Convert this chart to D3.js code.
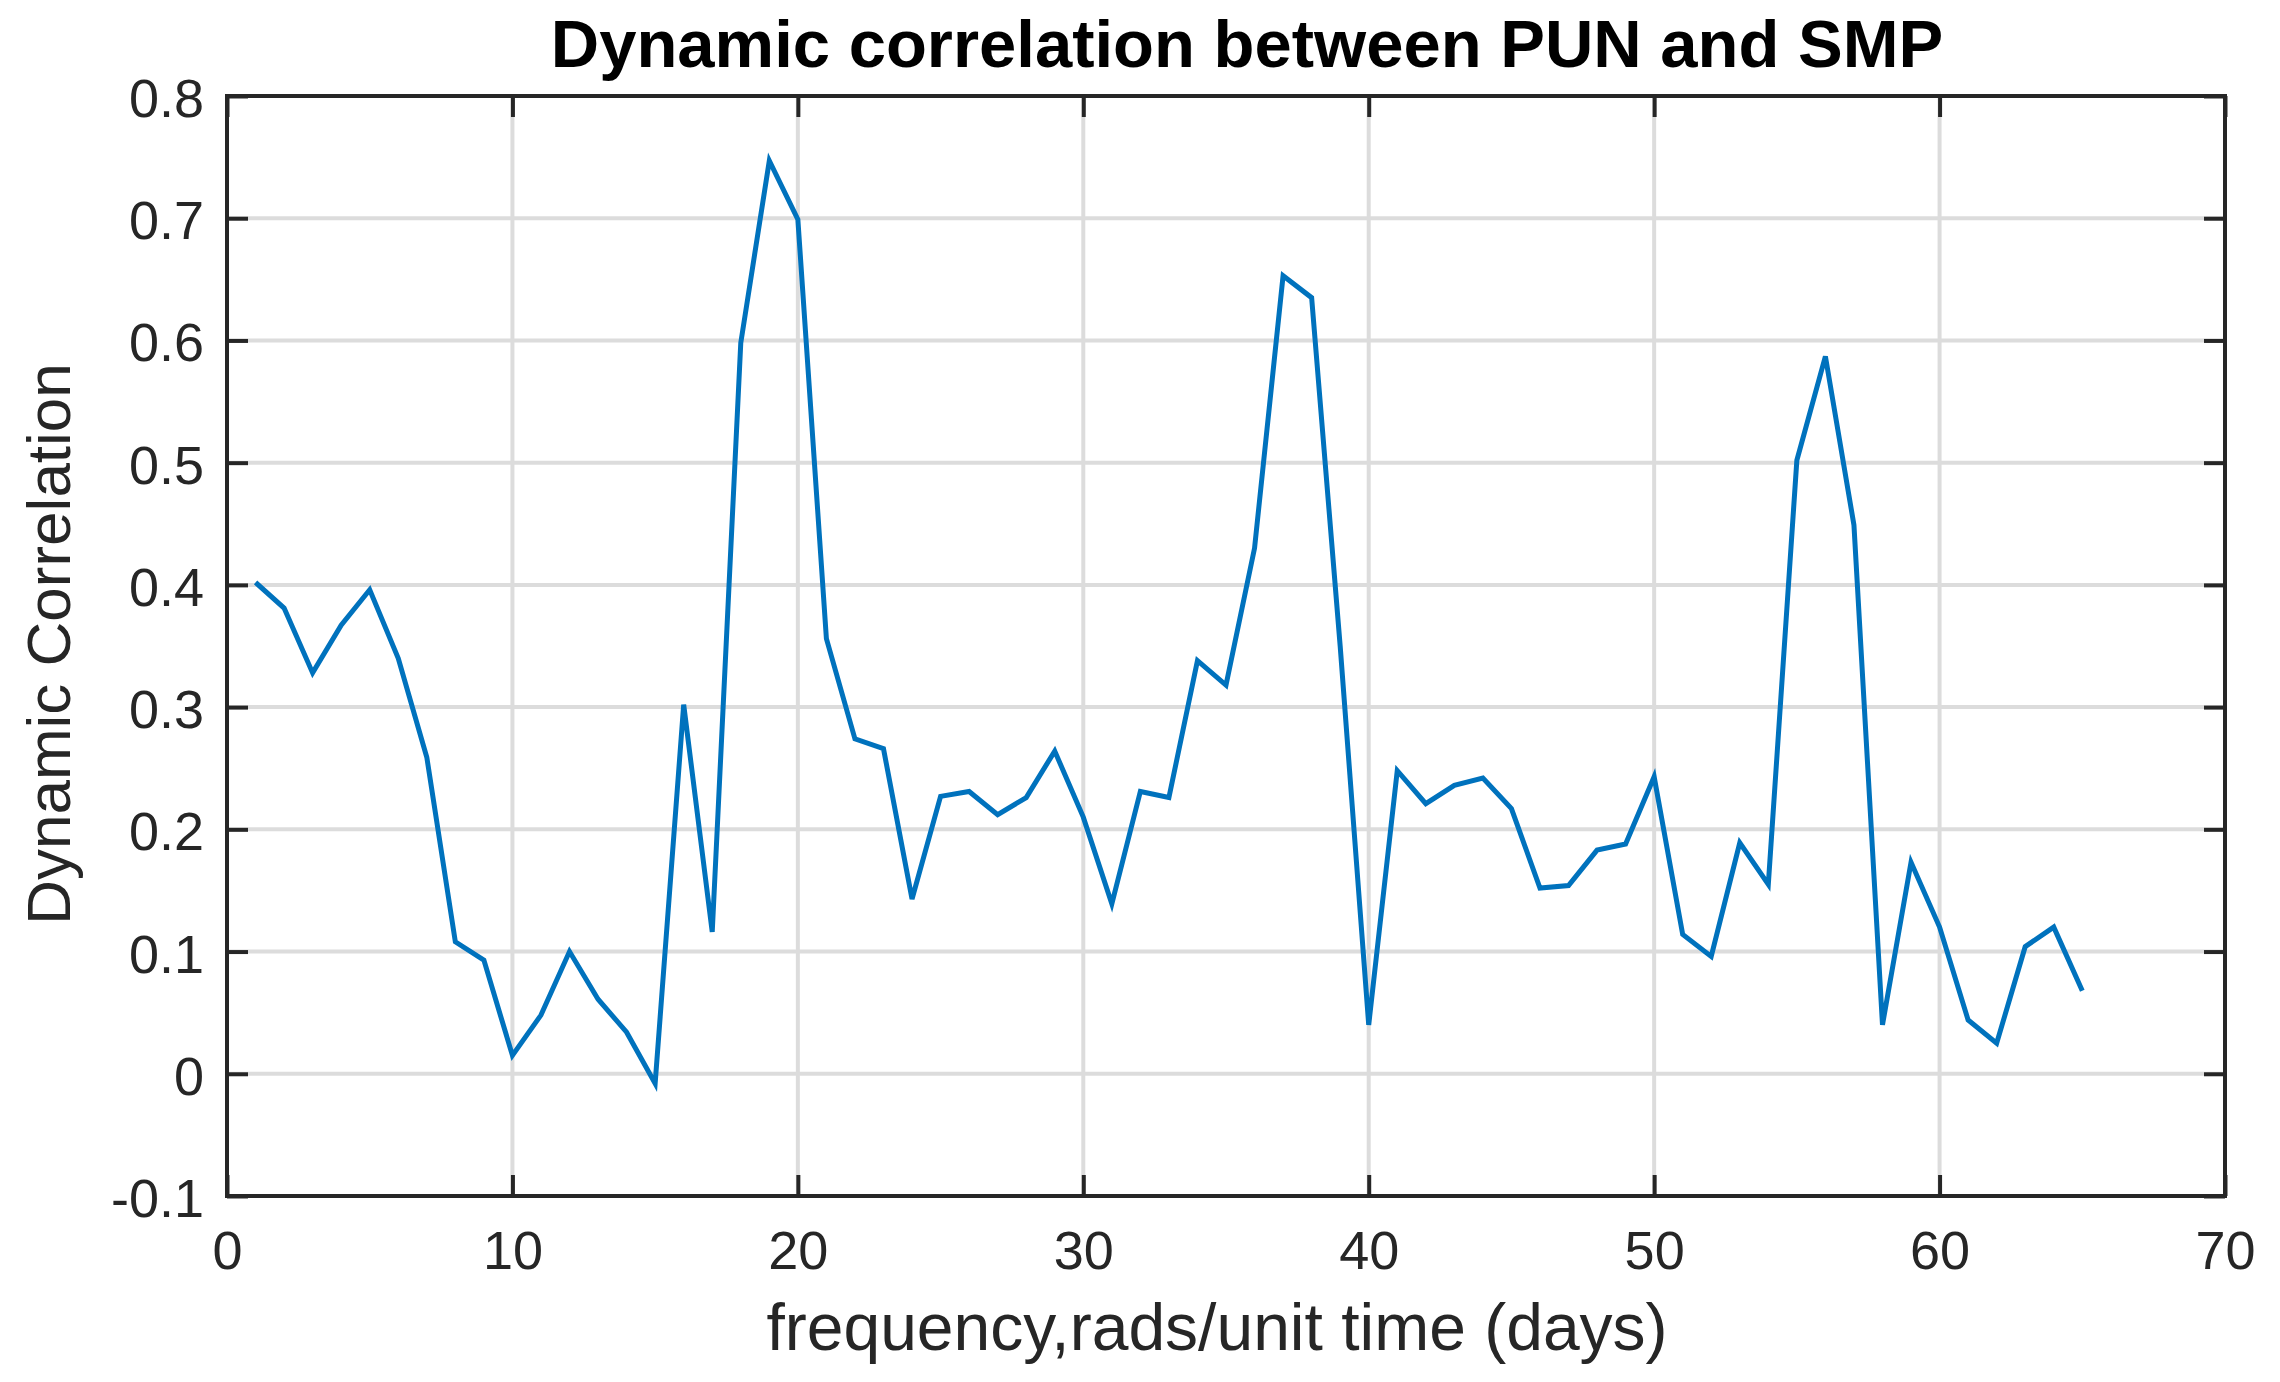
<!DOCTYPE html>
<html>
<head>
<meta charset="utf-8">
<script src="https://cdn.jsdelivr.net/npm/d3@7"></script>
<style>
  html, body { margin: 0; padding: 0; background: #ffffff; }
  svg { display: block; }
</style>
</head>
<body>
<script>
// ---- data ----
const frequency = d3.range(1, 66);
const dynamicCorrelation = [
  0.402, 0.381, 0.328, 0.367, 0.396, 0.340, 0.259, 0.108, 0.093, 0.015,
  0.048, 0.100, 0.061, 0.034, -0.008, 0.302, 0.116, 0.598, 0.747, 0.699,
  0.356, 0.274, 0.266, 0.143, 0.227, 0.231, 0.212, 0.226, 0.264, 0.210,
  0.139, 0.231, 0.226, 0.338, 0.318, 0.430, 0.653, 0.635, 0.350, 0.040,
  0.248, 0.221, 0.236, 0.242, 0.217, 0.152, 0.154, 0.183, 0.188, 0.243,
  0.114, 0.096, 0.189, 0.155, 0.502, 0.587, 0.449, 0.040, 0.173, 0.120,
  0.044, 0.025, 0.104, 0.120, 0.068
];
const xTicks = [0, 10, 20, 30, 40, 50, 60, 70];
const yTicks = [-0.1, 0, 0.1, 0.2, 0.3, 0.4, 0.5, 0.6, 0.7, 0.8];
const yTickLabels = ["-0.1", "0", "0.1", "0.2", "0.3", "0.4", "0.5", "0.6", "0.7", "0.8"];
const titleText = "Dynamic correlation between PUN and SMP";
const xLabelText = "frequency,rads/unit time (days)";
const yLabelText = "Dynamic Correlation";

// ---- layout ----
const W = 2280, H = 1382;
const pL = 227, pR = 2225, pT = 96, pB = 1196;
const axisColor = "#262626";
const font = "'Liberation Sans', Arial, Helvetica, sans-serif";

const svg = d3.select("body").append("svg")
  .attr("width", W).attr("height", H)
  .attr("viewBox", `0 0 ${W} ${H}`);

svg.append("rect").attr("width", W).attr("height", H).attr("fill", "#fff");

const x = d3.scaleLinear().domain([0, 70]).range([pL, pR]);
const y = d3.scaleLinear().domain([-0.1, 0.8]).range([pB, pT]);

// grid
const grid = svg.append("g").attr("stroke", "#dcdcdc").attr("stroke-width", 4);
grid.selectAll("line.gx").data(xTicks.slice(1, -1)).enter().append("line")
  .attr("x1", d => x(d)).attr("x2", d => x(d))
  .attr("y1", pT).attr("y2", pB);
grid.selectAll("line.gy").data(yTicks.slice(1, -1)).enter().append("line")
  .attr("y1", d => y(d)).attr("y2", d => y(d))
  .attr("x1", pL).attr("x2", pR);

// data line
const line = d3.line().x((d, i) => x(frequency[i])).y(d => y(d));
svg.append("path")
  .datum(dynamicCorrelation)
  .attr("d", line)
  .attr("fill", "none")
  .attr("stroke", "#0072BD")
  .attr("stroke-width", 5)
  .attr("stroke-linejoin", "miter")
  .attr("stroke-miterlimit", 4);

// axes with inward ticks on all sides
const tickLen = 21;
const xAxisB = d3.axisBottom(x).tickValues(xTicks).tickSizeInner(-tickLen).tickSizeOuter(0)
  .tickPadding(35).tickFormat(d3.format("d"));
const xAxisT = d3.axisTop(x).tickValues(xTicks).tickSizeInner(-tickLen).tickSizeOuter(0).tickFormat("");
const yAxisL = d3.axisLeft(y).tickValues(yTicks).tickSizeInner(-tickLen).tickSizeOuter(0)
  .tickPadding(23).tickFormat((d, i) => yTickLabels[i]);
const yAxisR = d3.axisRight(y).tickValues(yTicks).tickSizeInner(-tickLen).tickSizeOuter(0).tickFormat("");

function styleAxis(g) {
  g.select(".domain").remove();
  g.selectAll(".tick line").attr("stroke", axisColor).attr("stroke-width", 4);
  g.selectAll(".tick text").attr("fill", axisColor)
    .style("font-family", font).style("font-size", "54px");
}

svg.append("g").attr("transform", `translate(0,${pB})`).call(xAxisB).call(styleAxis)
  .selectAll(".tick text").attr("dy", "0.71em");
svg.append("g").attr("transform", `translate(0,${pT})`).call(xAxisT).call(styleAxis);
svg.append("g").attr("transform", `translate(${pL},0)`).call(yAxisL).call(styleAxis)
  .selectAll(".tick text").attr("dy", "0.38em");
svg.append("g").attr("transform", `translate(${pR},0)`).call(yAxisR).call(styleAxis);

// box
svg.append("rect")
  .attr("x", pL).attr("y", pT)
  .attr("width", pR - pL).attr("height", pB - pT)
  .attr("fill", "none").attr("stroke", axisColor).attr("stroke-width", 4)
  .attr("stroke-linejoin", "miter");

// title
svg.append("text")
  .attr("x", 1247).attr("y", 67)
  .attr("text-anchor", "middle")
  .style("font-family", font).style("font-weight", "bold").style("font-size", "67px")
  .attr("fill", "#000")
  .text(titleText);

// x label
svg.append("text")
  .attr("x", 1217).attr("y", 1350)
  .attr("text-anchor", "middle")
  .style("font-family", font).style("font-size", "66px")
  .attr("fill", axisColor)
  .text(xLabelText);

// y label
svg.append("text")
  .attr("transform", `translate(70,${(pT + pB) / 2 - 2}) rotate(-90)`)
  .attr("text-anchor", "middle")
  .style("font-family", font).style("font-size", "62px")
  .attr("fill", axisColor)
  .text(yLabelText);
</script>
</body>
</html>
